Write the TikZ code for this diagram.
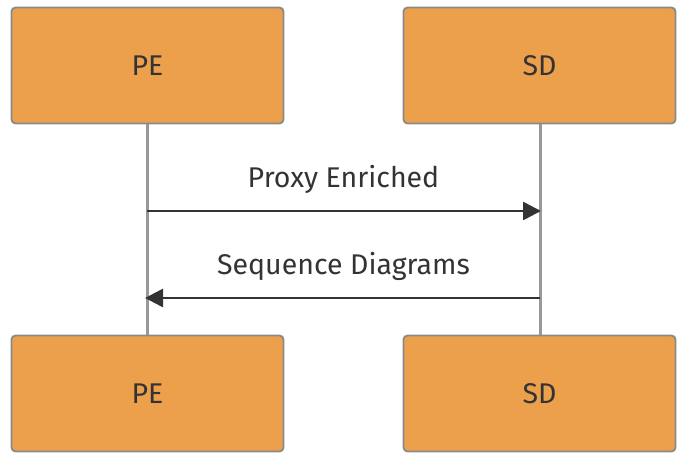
\documentclass[tikz,border=0pt]{standalone}
\usepackage{fontspec}
\setmainfont{Fira Sans}
\usetikzlibrary{arrows.meta}
\definecolor{boxfill}{HTML}{ECA04C}
\definecolor{boxline}{HTML}{8A8A8A}
\definecolor{txt}{HTML}{333333}
\definecolor{life}{HTML}{999999}
\tikzset{
  actor/.style={draw=boxline, line width=1.8pt, fill=boxfill, rounded corners=4pt,
    minimum width=272pt, minimum height=116pt, inner sep=0pt, text=txt, font=\fontsize{28.5}{31}\selectfont},
  lifeline/.style={draw=life, line width=3pt},
  msg/.style={draw=txt, line width=2.6pt, -{Triangle[length=18pt,width=18pt]}},
  msglabel/.style={text=txt, font=\fontsize{28.5}{31}\selectfont, inner sep=0pt}
}
\begin{document}
\begin{tikzpicture}[x=1pt,y=-1pt]
\useasboundingbox (0,0) rectangle (688,461);
\coordinate (pl1) at (147,124);
\coordinate (pl2) at (147,335);
\coordinate (sl1) at (540,124);
\coordinate (sl2) at (540,335);
\draw[lifeline] (pl1) -- (pl2);
\draw[lifeline] (sl1) -- (sl2);
\node[actor] (pe1) at (147.5,65.5) {PE};
\node[actor] (sd1) at (539.5,65.5) {SD};
\node[actor] (pe2) at (147.5,393.5) {PE};
\node[actor] (sd2) at (539.5,393.5) {SD};
\coordinate (a1s) at (147,211);
\coordinate (a1e) at (541,211);
\coordinate (a2s) at (540,298);
\coordinate (a2e) at (145,298);
\draw[msg] (a1s) -- (a1e);
\draw[msg] (a2s) -- (a2e);
\node[msglabel] (l1) at (343.5,179) {Proxy Enriched};
\node[msglabel] (l2) at (343.5,266) {Sequence Diagrams};
\end{tikzpicture}
\end{document}
